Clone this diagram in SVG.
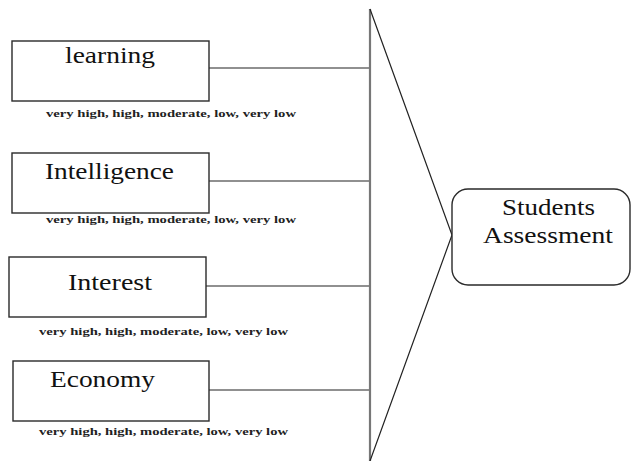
<svg xmlns="http://www.w3.org/2000/svg" width="632" height="461" viewBox="0 0 632 461">
<style>
text{font-family:"Liberation Serif","Times New Roman",serif}
.box{fill:#fff;stroke:#2a2a2a;stroke-width:1.4}
.lbl{font-size:23.5px;fill:#111}
.cap{font-size:10.5px;font-weight:bold;fill:#222}
.con{stroke:#222;stroke-width:1.2;fill:none}
</style>
<rect width="632" height="461" fill="#fff"/>
<g id="connectors">
<line class="con" x1="209" y1="68" x2="370" y2="68"/>
<line class="con" x1="209" y1="181" x2="370" y2="181"/>
<line class="con" x1="206" y1="286" x2="370" y2="286"/>
<line class="con" x1="209" y1="390" x2="370" y2="390"/>
<line x1="370" y1="9" x2="370" y2="461" stroke="#777" stroke-width="2.2"/>
<polyline class="con" points="370,9 452,235 370,461"/>
</g>
<g id="learning">
<rect class="box" x="12" y="41" width="197" height="60"/>
<text class="lbl" x="65" y="63" textLength="90" lengthAdjust="spacingAndGlyphs">learning</text>
<text class="cap" x="46" y="117" textLength="250" lengthAdjust="spacingAndGlyphs">very high, high, moderate, low, very low</text>
</g>
<g id="intelligence">
<rect class="box" x="12" y="153" width="197" height="60"/>
<text class="lbl" x="45" y="179" textLength="129" lengthAdjust="spacingAndGlyphs">Intelligence</text>
<text class="cap" x="46" y="223" textLength="250" lengthAdjust="spacingAndGlyphs">very high, high, moderate, low, very low</text>
</g>
<g id="interest">
<rect class="box" x="9" y="257" width="197" height="60"/>
<text class="lbl" x="68" y="290" textLength="84" lengthAdjust="spacingAndGlyphs">Interest</text>
<text class="cap" x="39" y="335" textLength="249" lengthAdjust="spacingAndGlyphs">very high, high, moderate, low, very low</text>
</g>
<g id="economy">
<rect class="box" x="13" y="361" width="196" height="60"/>
<text class="lbl" x="50" y="387" textLength="105" lengthAdjust="spacingAndGlyphs">Economy</text>
<text class="cap" x="39" y="435" textLength="249" lengthAdjust="spacingAndGlyphs">very high, high, moderate, low, very low</text>
</g>
<g id="students-assessment">
<rect class="box" x="452" y="189" width="178" height="96" rx="16" ry="16"/>
<text class="lbl" x="502" y="215" textLength="93" lengthAdjust="spacingAndGlyphs">Students</text>
<text class="lbl" x="483" y="243" textLength="130" lengthAdjust="spacingAndGlyphs">Assessment</text>
</g>
</svg>
